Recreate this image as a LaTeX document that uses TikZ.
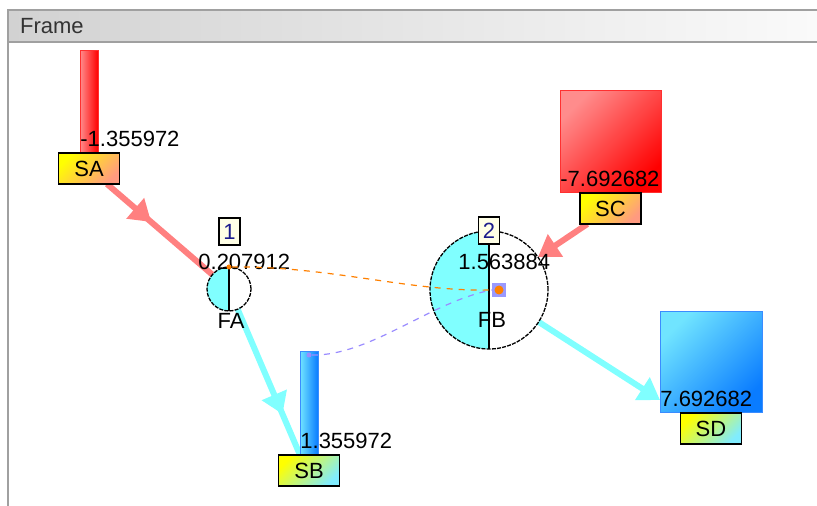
\documentclass[tikz,border=0pt]{standalone}
\usepackage{fontspec}
\setmainfont{Liberation Sans}
\usetikzlibrary{arrows.meta,decorations.markings,backgrounds}

\definecolor{salmon}{HTML}{FF8080}
\definecolor{aqua}{HTML}{80FFFF}
\definecolor{redlight}{HTML}{FF8C8C}
\definecolor{reddark}{HTML}{FF0000}
\definecolor{redline}{HTML}{FF3030}
\definecolor{bluelight}{HTML}{70E4FF}
\definecolor{bluedark}{HTML}{0A7CFF}
\definecolor{blueline}{HTML}{3A8CFF}
\definecolor{tagyellow}{HTML}{FFFF00}
\definecolor{tagorange}{HTML}{FF9A80}
\definecolor{tagcyan}{HTML}{80ECFF}
\definecolor{orangeline}{HTML}{FF8000}
\definecolor{lilac}{HTML}{9A8CFF}
\definecolor{portfill}{HTML}{9999FF}
\definecolor{numfill}{HTML}{FFFFE6}
\definecolor{numtext}{HTML}{1C1C8C}
\definecolor{barleft}{HTML}{D2D2D2}
\definecolor{barright}{HTML}{FAFAFA}
\definecolor{framegray}{HTML}{A0A0A0}
\definecolor{titletext}{HTML}{333333}

\begin{document}
\begin{tikzpicture}[x=0.5pt, y=-0.5pt,
    font=\fontsize{11}{13}\selectfont,
    bar/.style={draw, line width=0.5pt, minimum width=9pt,
        inner sep=0pt, outer sep=0pt},
    redbar/.style={draw=redline, left color=redlight, right color=reddark},
    bluebar/.style={draw=blueline, left color=bluelight, right color=bluedark},
    redsq/.style={draw=redline, top color=redlight, bottom color=reddark,
        shading angle=45},
    bluesq/.style={draw=blueline, top color=bluelight, bottom color=bluedark,
        shading angle=45},
    tag/.style={draw=black, line width=0.7pt, minimum width=30.5pt,
        minimum height=15.5pt, inner sep=0pt, outer sep=0pt},
    redtag/.style={top color=tagyellow, bottom color=tagorange, shading angle=45},
    bluetag/.style={top color=tagyellow, bottom color=tagcyan, shading angle=45},
    val/.style={anchor=south west, inner xsep=0pt, inner ysep=3pt},
    circ/.style={circle, draw, line width=0.65pt,
        dash pattern=on 2pt off 0.6pt, inner sep=0pt, outer sep=0pt,
        path picture={
            \fill[aqua] (path picture bounding box.north west)
                rectangle (path picture bounding box.south);
            \draw[solid, line width=0.6pt] (path picture bounding box.north)
                -- (path picture bounding box.south);}},
    numbox/.style={draw, fill=numfill, text=numtext, line width=0.6pt,
        minimum width=10.5pt, minimum height=13.5pt, inner sep=0pt},
    txt/.style={inner sep=0pt},
    port/.style={fill=portfill, minimum size=7pt, inner sep=0pt},
    dot/.style={circle, fill=orangeline, inner sep=0pt},
    link/.style={line width=0.6pt, dash pattern=on 3pt off 3pt},
    flow/.style={line width=3pt},
    head/.tip={Triangle[length=10.5pt, width=13pt]},
    midhead/.style={postaction={decorate, decoration={markings,
        mark=at position #1 with {\arrow{head}}}}}
    ]
    \useasboundingbox (0,0) rectangle (817,506);

    % window frame
    \shade[left color=barleft, right color=barright] (8,10) rectangle (817,42);
    \draw[framegray, line width=0.75pt] (8,506) -- (8,10) -- (817,10);
    \draw[framegray, line width=0.75pt] (8,42) -- (817,42);
    \node[anchor=west, text=titletext] (title) at (13,26.5) {Frame};

    % sources and sinks
    \node[bar, redbar, minimum height=51pt,
        label={[tag, redtag, name=satag]below:SA},
        label={[val]south west:-1.355972}] (sa) at (89,102) {};
    \node[bar, bluebar, minimum height=51.5pt,
        label={[tag, bluetag, name=sbtag]below:SB},
        label={[val]south west:1.355972}] (sb) at (309,403.5) {};
    \node[bar, redsq, minimum width=50.5pt, minimum height=51pt,
        label={[tag, redtag, name=sctag]below:SC},
        label={[val]south west:-7.692682}] (sc) at (610.5,142) {};
    \node[bar, bluesq, minimum width=51pt, minimum height=50.5pt,
        label={[tag, bluetag, name=sdtag]below:SD},
        label={[val]south west:7.692682}] (sd) at (711,362.5) {};

    % junctions
    \node[circ, minimum size=22pt] (fa) at (229,289) {};
    \node[circ, minimum size=59pt] (fb) at (489,290) {};
    \node[numbox] (fanr) at (229.5,231.5) {1};
    \node[numbox] (fbnr) at (489,230.5) {2};
    \node[txt, anchor=west] (faval) at (198,262) {0.207912};
    \node[txt, anchor=west] (fbval) at (458,262) {1.563884};
    \node[txt] (falbl) at (231,321) {FA};
    \node[txt] (fblbl) at (492,320) {FB};

    % ports and dashed links
    \node[port] (fbport) at (499,290) {};
    \node[dot, minimum size=4.5pt] (fbdot) at (fbport) {};
    \node[dot, minimum size=2.5pt] (fadot) at (fa.north) {};
    \node[dot, fill=lilac, minimum size=2.5pt] (sbdot) at ([yshift=-1.5pt]sb.north) {};
    \draw[link, orangeline] (fadot) .. controls (330,266) and (410,292) .. (fbport.west);
    \draw[link, lilac] (sbdot) .. controls (370,356) and (430,302) .. (fbport.west);

    % flows
    \begin{scope}[on background layer]
    \draw[flow, salmon, midhead=0.42] (satag) -- (fa);
    \draw[flow, salmon, -head] (sctag) -- (fb);
    \draw[flow, aqua, midhead=0.72] (fa) -- (sb.south west);
    \draw[flow, aqua, -head] (fb) -- ([yshift=6.5pt]sd.south west);
    \end{scope}
\end{tikzpicture}
\end{document}
